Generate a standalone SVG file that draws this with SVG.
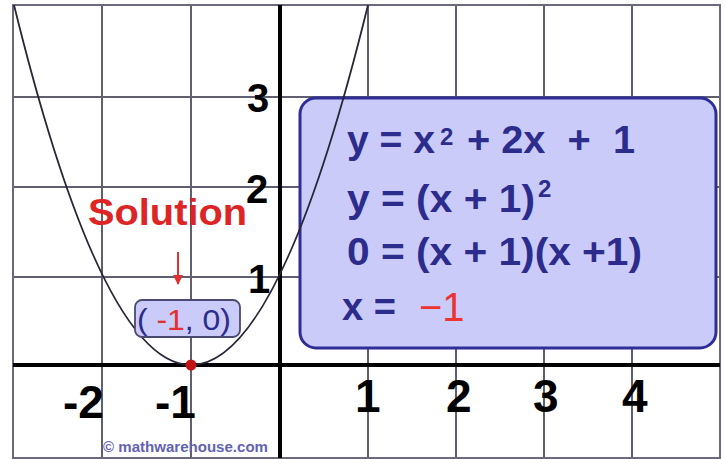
<svg xmlns="http://www.w3.org/2000/svg" width="726" height="459" viewBox="0 0 726 459">
  <defs>
    <style>
      .grid { stroke: #5f5f70; stroke-width: 2; fill: none; }
      .axis { stroke: #000; stroke-width: 4; fill: none; }
      .lbl { font-family: "Liberation Sans", Arial, sans-serif; font-weight: bold; fill: #000; }
      .eq { font-family: "Liberation Sans", Arial, sans-serif; font-weight: bold; fill: #2c2c8c; white-space: pre; }
      .red { fill: #e83232; }
    </style>
    <marker id="ah" viewBox="0 0 10 10" refX="9" refY="5" markerWidth="5" markerHeight="5" orient="auto" markerUnits="strokeWidth">
      <path d="M0,0 L10,5 L0,10 z" fill="#e03030"/>
    </marker>
    <clipPath id="plot"><rect x="13" y="5" width="707" height="453"/></clipPath>
  </defs>
  <rect width="726" height="459" fill="#fff"/>

  <g id="grid">
    <path class="grid" d="M102,5V458M191,5V458M368,5V458M456,5V458M544,5V458M632,5V458M13,97H720M13,187H720M13,277H720"/>
    <rect x="13" y="5" width="707" height="453" fill="none" stroke="#6a6a7c" stroke-width="2"/>
  </g>

  <g id="axes">
    <path class="axis" d="M280,5V458M13,365H720"/>
    <text class="lbl" x="247" y="112" font-size="40">3</text>
    <text class="lbl" x="246" y="203" font-size="40">2</text>
    <text class="lbl" x="248" y="293" font-size="40">1</text>
    <text class="lbl" x="63" y="418" font-size="46">-2</text>
    <text class="lbl" x="155" y="418" font-size="46">-1</text>
    <text class="lbl" x="355" y="412" font-size="46">1</text>
    <text class="lbl" x="446" y="412" font-size="46">2</text>
    <text class="lbl" x="533" y="412" font-size="46">3</text>
    <text class="lbl" x="622" y="412" font-size="46">4</text>
  </g>

  <g id="equation-box">
    <rect x="300" y="98" width="416" height="250" rx="16" ry="16" fill="#cbcbfa" stroke="#2e2e96" stroke-width="3"/>
    <text class="eq" x="347" y="153" font-size="38" textLength="88" lengthAdjust="spacingAndGlyphs">y = x</text>
    <text class="eq" x="440" y="145" font-size="24">2</text>
    <text class="eq" x="467" y="153" font-size="38" textLength="168" lengthAdjust="spacingAndGlyphs">+ 2x  +  1</text>
    <text class="eq" x="347" y="212" font-size="38" textLength="188" lengthAdjust="spacingAndGlyphs">y = (x + 1)</text>
    <text class="eq" x="538" y="197" font-size="24">2</text>
    <text class="eq" x="347" y="265" font-size="38" textLength="295" lengthAdjust="spacingAndGlyphs">0 = (x + 1)(x +1)</text>
    <text class="eq" x="342" y="320" font-size="38">x = </text>
    <text x="419" y="321" font-size="40" font-family="Liberation Sans, Arial, sans-serif" fill="#ee3333">−1</text>
  </g>

  <g id="parabola" clip-path="url(#plot)">
    <path d="M14,5 Q191,725 368,5" fill="none" stroke="#262636" stroke-width="1.8"/>
  </g>

  <g id="solution-label">
    <text class="lbl" x="88" y="225" font-size="36" fill="#dd2525" style="fill:#dd2525" textLength="159" lengthAdjust="spacingAndGlyphs">Solution</text>
  </g>

  <g id="connectors">
    <line x1="178" y1="252" x2="178" y2="284" stroke="#e03030" stroke-width="2" marker-end="url(#ah)"/>
  </g>

  <g id="point-label">
    <rect x="135" y="300" width="105" height="37" rx="7" ry="7" fill="#cbcbfa" stroke="#4a4a70" stroke-width="1.8"/>
    <text x="137" y="330" font-size="30" font-family="Liberation Sans, Arial, sans-serif" fill="#2c2c8c" textLength="94" lengthAdjust="spacingAndGlyphs" style="white-space:pre">( <tspan fill="#e03030">-1</tspan>, 0)</text>
  </g>

  <g id="vertex">
    <circle cx="191" cy="365" r="5.5" fill="#c01414"/>
  </g>

  <g id="watermark">
    <text x="103" y="452" font-size="14" font-family="Liberation Sans, Arial, sans-serif" font-weight="bold" fill="#6262b4" textLength="165" lengthAdjust="spacingAndGlyphs">© mathwarehouse.com</text>
  </g>
</svg>
